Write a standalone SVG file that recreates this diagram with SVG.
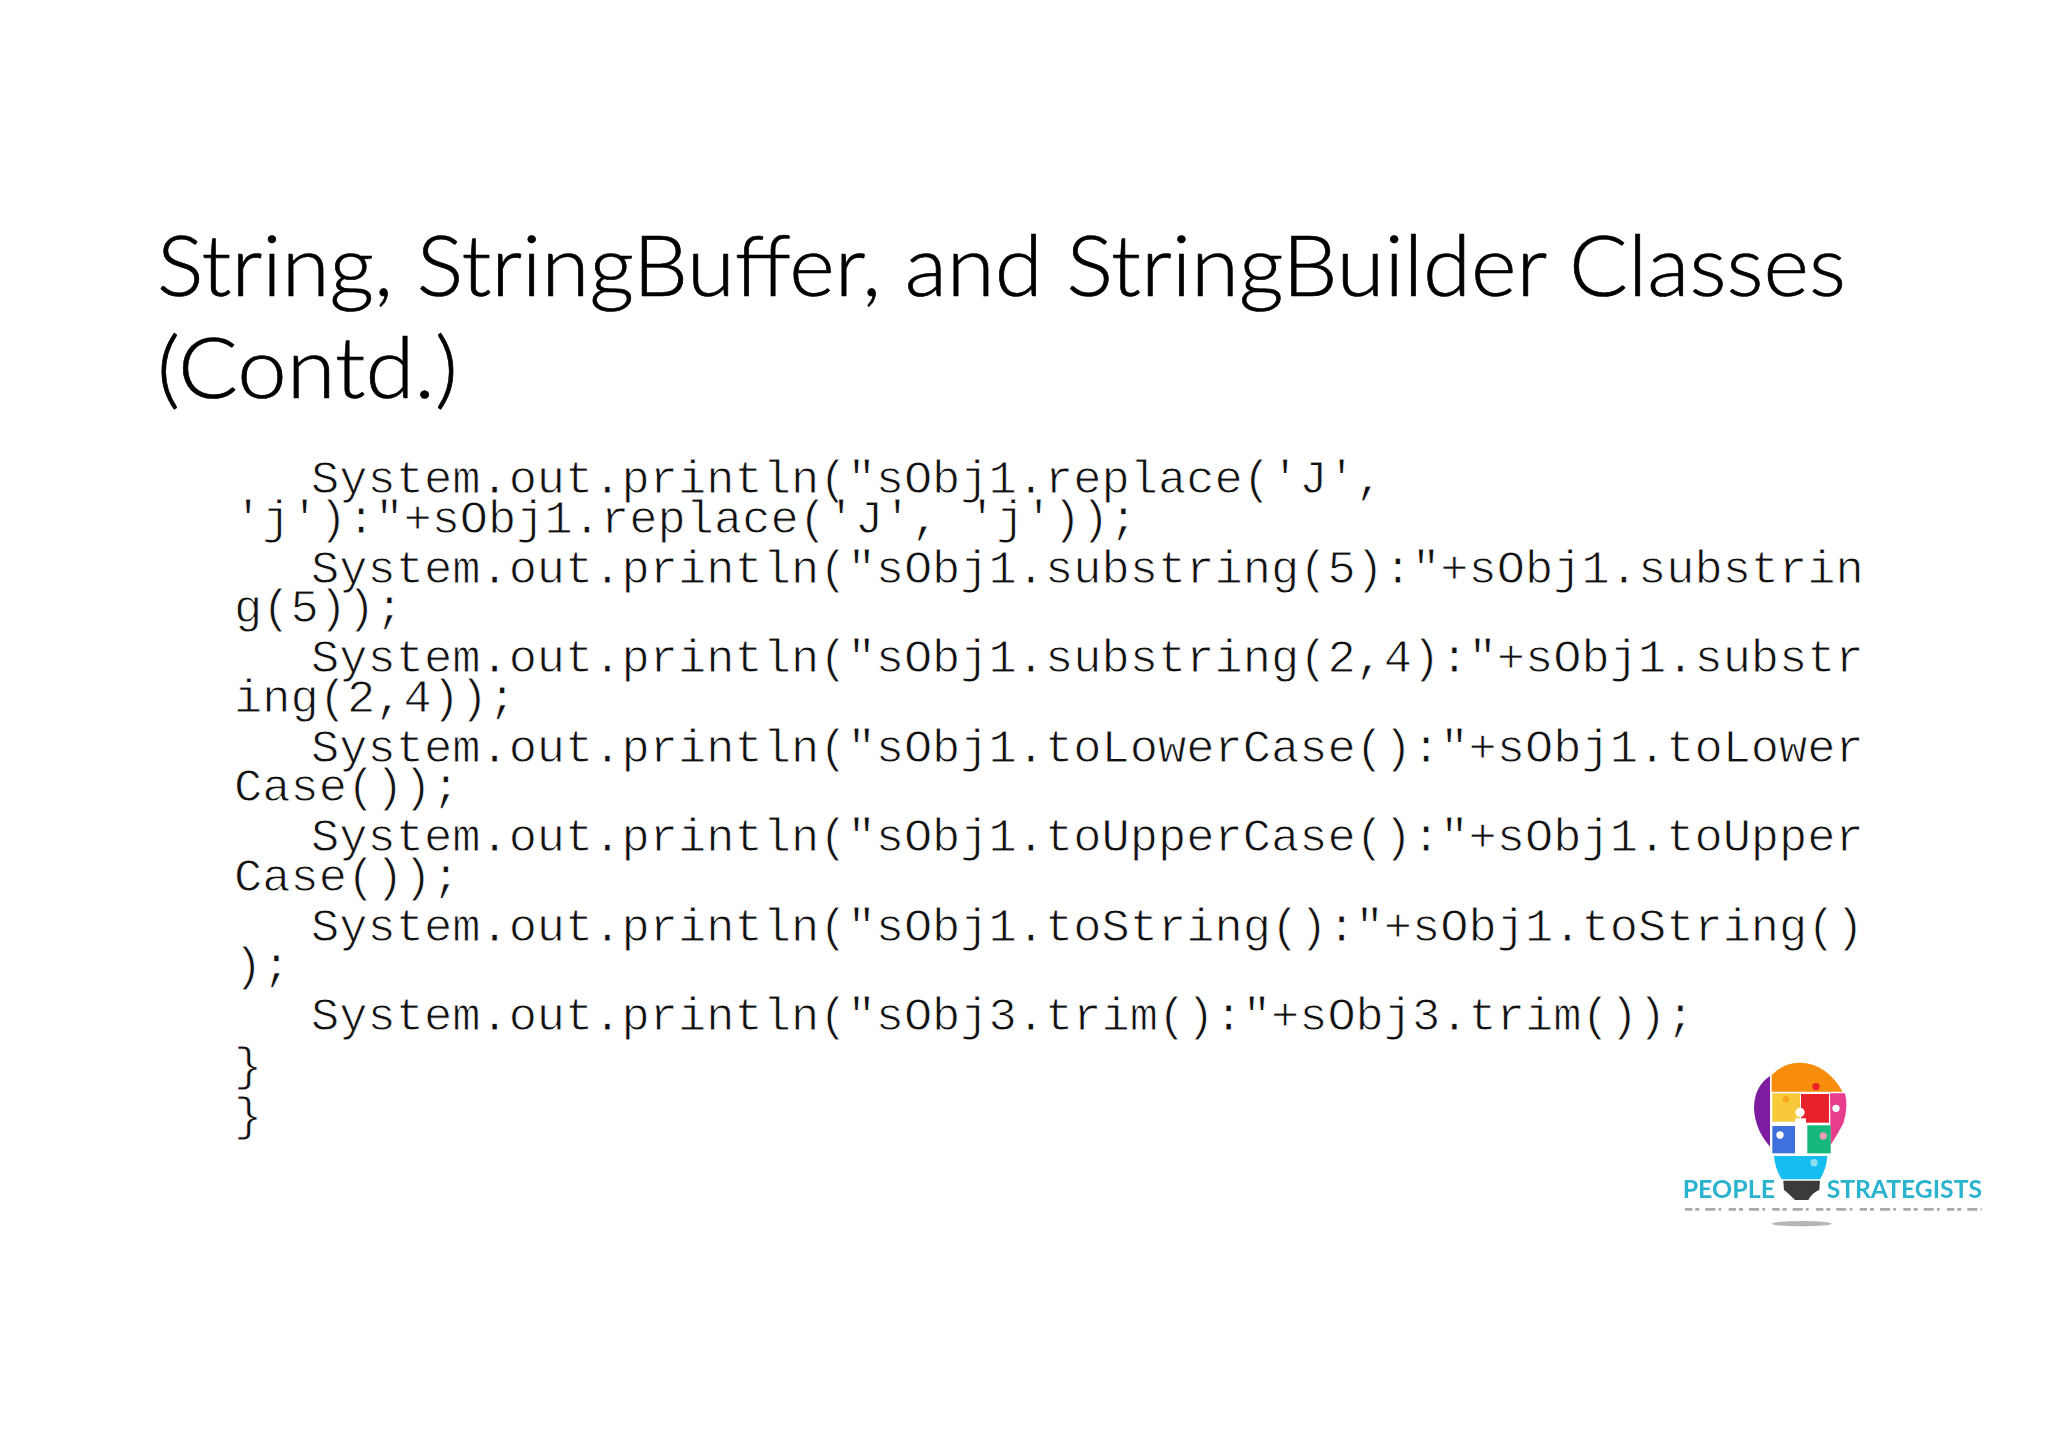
<svg xmlns="http://www.w3.org/2000/svg" width="2048" height="1448" viewBox="0 0 2048 1448">
<defs>
<style>
.t{font-family:"Lato","Open Sans",sans-serif;font-weight:300;font-size:85px;fill:#000;stroke:#000;stroke-width:.7}
.c{font-family:"Liberation Mono",monospace;font-size:47.06px;fill:#111;stroke:#fff;stroke-width:.9;white-space:pre}
.l{font-family:"Lato","Liberation Sans",sans-serif;font-size:72px;font-weight:700;fill:#2cb3cf}
</style>
<filter id="b" x="-5%" y="-5%" width="110%" height="110%"><feGaussianBlur stdDeviation="1.6"/></filter>
<filter id="s" x="-5%" y="-20%" width="110%" height="140%"><feGaussianBlur stdDeviation="1"/></filter>
</defs>
<rect width="2048" height="1448" fill="#fff"/>
<g id="title">
<text class="t" x="157" y="296" textLength="1689" lengthAdjust="spacingAndGlyphs">String, StringBuffer, and StringBuilder Classes</text>
<text class="t" x="157" y="398" textLength="301" lengthAdjust="spacingAndGlyphs">(Contd.)</text>
</g>
<g id="code" transform="translate(0 -2)">
<text class="c" x="311" y="495">System.out.println("sObj1.replace('J',</text>
<text class="c" x="234" y="534.5">'j'):"+sObj1.replace('J', 'j'));</text>
<text class="c" x="311" y="584.5">System.out.println("sObj1.substring(5):"+sObj1.substrin</text>
<text class="c" x="234" y="624">g(5));</text>
<text class="c" x="311" y="674">System.out.println("sObj1.substring(2,4):"+sObj1.substr</text>
<text class="c" x="234" y="713.5">ing(2,4));</text>
<text class="c" x="311" y="763.5">System.out.println("sObj1.toLowerCase():"+sObj1.toLower</text>
<text class="c" x="234" y="803">Case());</text>
<text class="c" x="311" y="853">System.out.println("sObj1.toUpperCase():"+sObj1.toUpper</text>
<text class="c" x="234" y="892.5">Case());</text>
<text class="c" x="311" y="942.5">System.out.println("sObj1.toString():"+sObj1.toString()</text>
<text class="c" x="234" y="982">);</text>
<text class="c" x="311" y="1032">System.out.println("sObj3.trim():"+sObj3.trim());</text>
<text class="c" x="234" y="1082">}</text>
<text class="c" x="234" y="1132">}</text>
</g>
<g id="logo" transform="translate(1680 1050) scale(.3333)">
<g filter="url(#b)">
<path fill="#f78c0c" d="M275 125V75Q310 38 360 38Q440 40 488 125Z"/>
<path fill="#7d1fa0" d="M270 78Q222 110 222 175Q225 240 270 290Z"/>
<rect x="277" y="130" width="83" height="85" fill="#f8c93a"/>
<rect x="363" y="132" width="84" height="86" fill="#e8202a"/>
<path fill="#e83e8c" d="M450 130H495Q506 170 490 220Q475 250 452 285Z"/>
<rect x="277" y="228" width="68" height="82" fill="#3f6fdc"/>
<rect x="382" y="226" width="70" height="84" fill="#12b87c"/>
<path fill="#12bdf0" d="M282 318H442Q440 355 420 388H305Q285 355 282 318Z"/>
<path fill="#3a3a3a" d="M310 392H420L418 420Q395 430 385 450H345Q325 430 312 420Z"/>
<circle cx="408" cy="110" r="11" fill="#e8202a"/>
<circle cx="318" cy="148" r="10" fill="#f78c0c" opacity=".6"/>
<circle cx="468" cy="175" r="11" fill="#fff"/>
<circle cx="300" cy="255" r="11" fill="#fff"/>
<circle cx="430" cy="258" r="11" fill="#e8a0b0"/>
<circle cx="402" cy="338" r="11" fill="#8fe0f0"/>
<ellipse cx="365" cy="521" rx="90" ry="8" fill="#b5b5b5"/>
<path stroke="#aaa" stroke-width="8" stroke-dasharray="22 9 12 18 30 10 8 22" fill="none" d="M15 478H905"/>
<circle cx="360" cy="187" r="14" fill="#fff"/>
<rect x="346" y="205" width="32" height="105" fill="#fff"/>
</g>
<g filter="url(#s)">
<text class="l" x="8" y="443" textLength="277" lengthAdjust="spacingAndGlyphs">PEOPLE</text>
<text class="l" x="440" y="443" textLength="466" lengthAdjust="spacingAndGlyphs">STRATEGISTS</text>
</g>
</g>
</svg>
